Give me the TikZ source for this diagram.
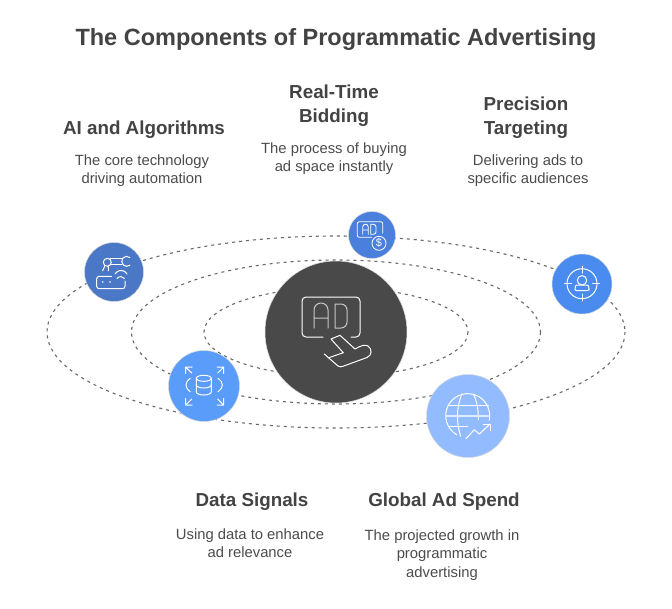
\documentclass[tikz,border=0pt]{standalone}
\usepackage{fontspec}
\setmainfont{Liberation Sans}
\definecolor{ink}{HTML}{434343}
\definecolor{dark}{HTML}{494949}
\definecolor{bluea}{HTML}{4A78C6}
\definecolor{blueb}{HTML}{4A7FDC}
\definecolor{bluec}{HTML}{4A8BF0}
\definecolor{blued}{HTML}{5A9CFA}
\definecolor{bluee}{HTML}{93BBFF}
\tikzset{
  orbit/.style={draw=ink!80,line width=1.1pt,dash pattern=on 3pt off 4pt},
  disc/.style={circle,inner sep=0pt,draw=white!85!black,line width=0.5pt,minimum size=#1},
  ttl/.style={font=\fontsize{23.5}{28}\selectfont\bfseries,text=ink,anchor=center},
  head/.style={font=\fontsize{18.8}{24}\selectfont\bfseries,text=ink,align=center,anchor=center},
  desc/.style={font=\fontsize{14.8}{18.2}\selectfont,text=ink!95,align=center,anchor=center},
  ico/.style={draw=white,line width=1pt,line cap=round,line join=round,fill=none},
}
\begin{document}
\begin{tikzpicture}[x=1pt,y=-1pt]
\useasboundingbox (0,0) rectangle (672,608);
\fill[white] (0,0) rectangle (672,608);
% orbits
\draw[orbit] (336,332) ellipse [x radius=289,y radius=96];
\draw[orbit] (336,332) ellipse [x radius=204.5,y radius=72];
\draw[orbit] (336,332) ellipse [x radius=132,y radius=44.5];
% discs
\node[disc=142pt,fill=dark] (hub) at (336,332) {};
\node[disc=59pt,fill=bluea] (ai) at (114,272) {};
\node[disc=47pt,fill=blueb] (rtb) at (372,235) {};
\node[disc=60pt,fill=bluec] (pt) at (582,284) {};
\node[disc=71pt,fill=blued] (ds) at (204,386) {};
\node[disc=83pt,fill=bluee] (gl) at (468,416) {};
% texts
\node[ttl] (title) at (336,39.5) {The Components of Programmatic Advertising};
\node[head] (h1) at (144,130) {AI and Algorithms};
\node[desc] (d1) at (142,171) {The core technology\\driving automation};
\node[head] (h2) at (334,106) {Real-Time\\Bidding};
\node[desc] (d2) at (334,159) {The process of buying\\ad space instantly};
\node[head] (h3) at (526,118) {Precision\\Targeting};
\node[desc] (d3) at (528,171) {Delivering ads to\\specific audiences};
\node[head] (h4) at (252,502) {Data Signals};
\node[desc] (d4) at (250,543) {Using data to enhance\\ad relevance};
\node[head] (h5) at (444,502) {Global Ad Spend};
\node[desc] (d5) at (442,555) {The projected growth in\\programmatic\\advertising};
% hub icon
\draw[ico,rounded corners=4pt] (323,337) -- (302,337) -- (302,297) -- (360,297) -- (360,337) -- (351,337);
\draw[ico,white!70!dark] (314,328) -- (314,310) arc[start angle=180,end angle=360,radius=7] -- (328,328) (314,318) -- (328,318);
\draw[ico,white!70!dark] (335,304) -- (341,304) arc[start angle=-90,end angle=0,radius=6] -- (347,322) arc[start angle=0,end angle=90,radius=6] -- (335,328) -- cycle;
\draw[ico] (324.3,354) -- (338,366) .. controls (339.5,367) and (341,367) .. (343,366.3) -- (367,357.5) .. controls (372,355.5) and (372.5,349) .. (368,346) .. controls (365,344.5) and (362,345) .. (355,349) -- (340,335.3) -- (331,339) -- (343.3,352.7) -- (328,358);
% AI icon
\draw[ico] (107.3,262.3) circle (4);
\draw[ico] (110,258.7) -- (122,258.7) (110,264.7) -- (122,264.7);
\draw[ico] (129.9,257.5) arc[start angle=-50,end angle=-310,radius=5];
\draw[ico] (105,265.5) -- (102.7,270.7) (108.3,266.3) -- (108.3,270.7);
\draw[ico,rounded corners=2.5pt] (111.5,276.3) -- (96.7,276.3) -- (96.7,288.7) -- (125,288.7) -- (125,281);
\draw[ico,line width=1.4pt] (102.7,282) -- (102.8,282) (110,282) -- (110.1,282);
\draw[ico] (115,274) arc[start angle=210,end angle=330,radius=7];
\draw[ico] (117,278.5) arc[start angle=215,end angle=325,radius=4.5];
% RTB icon
\draw[ico,line width=0.85pt,rounded corners=2pt] (371.7,237.3) -- (357.3,237.3) -- (357.3,221.7) -- (382.7,221.7) -- (382.7,233.3);
\draw[ico,line width=0.85pt] (362.7,234.3) -- (362.7,227) arc[start angle=180,end angle=360,radius=2.8] -- (368.3,234.3) (362.7,230) -- (368.3,230);
\draw[ico,line width=0.85pt] (370.7,224.3) -- (373.5,224.3) arc[start angle=-90,end angle=0,radius=2.5] -- (376,231.8) arc[start angle=0,end angle=90,radius=2.5] -- (370.7,234.3) -- cycle;
\draw[ico,line width=0.85pt] (379,243.3) circle (7);
\node[font=\fontsize{11}{11}\selectfont,text=white,inner sep=0pt] (rtbs) at (379,243.3) {\$};
% Precision icon
\draw[ico] (582,283.7) circle (15);
\draw[ico] (582,266.2) -- (582,273.2) (582,294.2) -- (582,301.2) (564.5,283.7) -- (571.5,283.7) (592.5,283.7) -- (599.5,283.7);
\draw[ico] (582,280.3) circle (4.7);
\draw[ico,rounded corners=2pt] (575,290.7) -- (575,288) .. controls (575.5,285.5) and (577.5,285) .. (579,285) -- (585,285) .. controls (586.5,285) and (588.5,285.5) .. (589,288) -- (589,290.7) -- cycle;
% Data icon
\draw[ico] (203.8,378.3) ellipse [x radius=7.5,y radius=3];
\draw[ico] (196.3,378.3) -- (196.3,392) arc[start angle=180,end angle=0,x radius=7.5,y radius=3] -- (211.3,378.3);
\draw[ico] (196.3,385) arc[start angle=180,end angle=0,x radius=7.5,y radius=3];
\draw[ico] (190.3,378.3) .. controls (184.5,382.5) and (184.5,387.5) .. (190.3,391.7);
\draw[ico] (218,378.3) .. controls (223.8,382.5) and (223.8,387.5) .. (218,391.7);
\foreach \sx/\sy in {1/1,-1/1,1/-1,-1/-1}{
  \draw[ico] ({204.7+\sx*19},{386+\sy*19}) -- ({204.7+\sx*13},{386+\sy*13})
    ({204.7+\sx*19},{386+\sy*12.5}) -- ({204.7+\sx*19},{386+\sy*19}) -- ({204.7+\sx*12.5},{386+\sy*19});
}
% Global icon
\draw[ico] (456.7,434.7) arc[start angle=120,end angle=372,radius=22];
\draw[ico] (461.7,394) .. controls (456.5,408) and (456,422) .. (460.7,436.3);
\draw[ico] (473.3,394) .. controls (477,401) and (478.5,410) .. (478.3,419.7);
\draw[ico] (448.3,405.3) -- (488.3,405.3);
\draw[ico,line width=1.6pt,white!70!bluee] (446,415.7) -- (489.3,415.7);
\draw[ico] (448.3,426.3) -- (467.7,426.3);
\draw[ico] (466,438.7) -- (474.3,429.7) -- (479.3,434) -- (490,424);
\draw[ico] (483.3,424) -- (490.7,424) -- (490.7,430.7);
\end{tikzpicture}
\end{document}
